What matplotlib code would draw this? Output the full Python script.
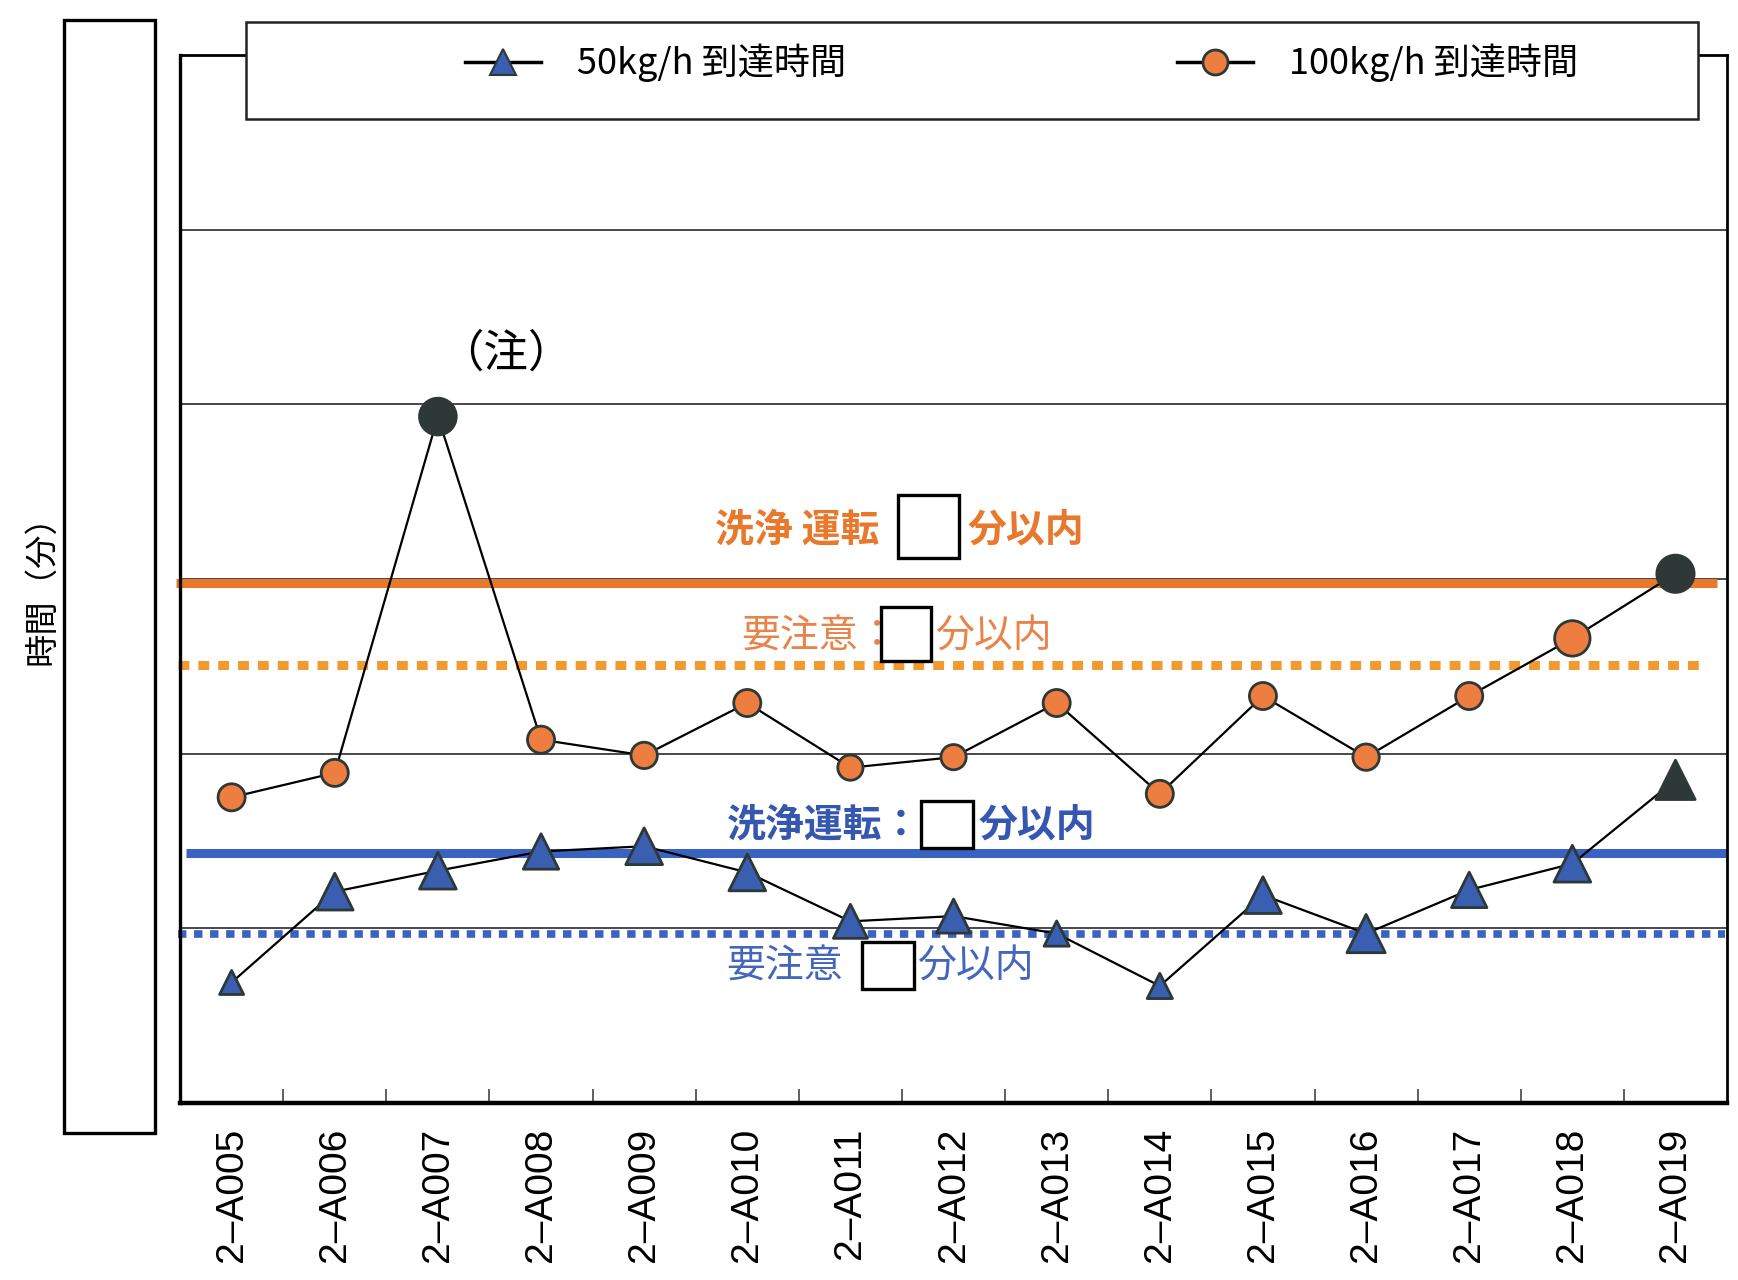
import matplotlib
matplotlib.use("Agg")
import matplotlib.pyplot as plt
from matplotlib.patches import Rectangle
from matplotlib.lines import Line2D
import numpy as np

plt.rcParams['font.family'] = ['Noto Sans CJK JP', 'DejaVu Sans']

# 試験番号
units = ['2–A005', '2–A006', '2–A007', '2–A008', '2–A009', '2–A010', '2–A011', '2–A012',
         '2–A013', '2–A014', '2–A015', '2–A016', '2–A017', '2–A018', '2–A019']

# 到達時間（分）
t_50 = [6.9, 12.1, 13.3, 14.4, 14.7, 13.2, 10.4, 10.7, 9.7, 6.7, 11.9, 9.7, 12.2, 13.7, 18.5]
t_100 = [17.5, 18.9, 39.3, 20.8, 19.9, 22.9, 19.2, 19.8, 22.9, 17.7, 23.3, 19.8, 23.3, 26.6, 30.3]

# 管理値
wash_100 = 29.8
caution_100 = 25.1
wash_50 = 14.3
caution_50 = 9.7

# colours / marker sizes
ORANGE = '#e8782c'
ORANGE_DOT = '#f09a30'
BLUE = '#3a62c0'
TRI_BLUE = '#3a5eb0'
CIRC_OR = '#ee7e40'
DARK = '#2e3836'

tri_sizes = [300, 700, 700, 650, 700, 700, 600, 600, 330, 330, 700, 760, 650, 700, 800]
tri_colors = [TRI_BLUE] * 14 + [DARK]
circ_sizes = [380, 380, 700, 380, 360, 380, 330, 330, 380, 380, 380, 360, 380, 650, 720]
circ_colors = [CIRC_OR, CIRC_OR, DARK] + [CIRC_OR] * 11 + [DARK]

fig = plt.figure(figsize=(17.38, 12.8), dpi=100)
ax = fig.add_axes([0.1036, 0.1383, 0.8901, 0.8187])

x = np.arange(len(units))
ax.set_xlim(-0.5, len(units) - 0.5)
ax.set_ylim(0, 60)

# horizontal grid
ax.set_yticks(np.arange(10, 60, 10))
ax.yaxis.grid(True, color='#2a2a2a', lw=1.2, zorder=0)
ax.tick_params(axis='y', length=0, labelleft=False)
ax.set_axisbelow(True)

# threshold lines
ax.plot([-0.54, 14.4], [wash_100] * 2, color=ORANGE, lw=6.5, solid_capstyle='butt', clip_on=False, zorder=2)
ax.plot([-0.52, 14.27], [caution_100] * 2, color=ORANGE_DOT, lw=6.5,
        linestyle=(0, (1.2, 1.0)), dash_capstyle='butt', clip_on=False, zorder=2)
ax.plot([-0.44, 14.5], [wash_50] * 2, color=BLUE, lw=6.5, solid_capstyle='butt', clip_on=False, zorder=2)
ax.plot([-0.52, 14.48], [caution_50] * 2, color=BLUE, lw=5.5,
        linestyle=(0, (1.1, 1.0)), dash_capstyle='butt', clip_on=False, zorder=2)

# threshold labels with blank boxes
def limit_label(x0, y, head, color, weight, box, x1):
    ax.text(x0, y, head, color=color, fontsize=28, fontweight=weight, va='center', ha='left', zorder=6)
    bx0, bx1, by0, by1 = box
    ax.add_patch(Rectangle((bx0, by0), bx1 - bx0, by1 - by0, facecolor='white',
                           edgecolor='black', lw=2.4, zorder=7))
    ax.text(x1, y, '分以内', color=color, fontsize=28, fontweight=weight, va='center', ha='left', zorder=6)

limit_label(4.69, 32.8, '洗浄 運転', ORANGE, 'bold', (6.46, 7.05, 31.2, 34.8), 7.14)
limit_label(4.94, 26.7, '要注意：', '#e8844a', 'normal', (6.30, 6.78, 25.3, 28.4), 6.82)
limit_label(4.80, 15.9, '洗浄運転：', '#3557b0', 'bold', (6.68, 7.19, 14.6, 17.3), 7.24)
limit_label(4.80, 7.8, '要注意', '#4466bb', 'normal', (6.11, 6.62, 6.5, 9.2), 6.65)

# series
ax.plot(x, t_100, color='black', lw=1.6, zorder=3)
ax.scatter(x, t_100, s=circ_sizes, c=circ_colors, marker='o', edgecolors=DARK, linewidths=2, zorder=4)
ax.plot(x, t_50, color='black', lw=1.6, zorder=3)
ax.scatter(x, t_50, s=tri_sizes, c=tri_colors, marker='^', edgecolors=DARK, linewidths=2, zorder=4)

ax.text(2.66, 42.9, '（注）', fontsize=32, ha='center', va='center', zorder=6)

# x axis: labels at centres, short inward ticks at boundaries
ax.set_xticks(x)
ax.set_xticklabels(units, rotation=90, fontsize=28, family=['Liberation Sans', 'Noto Sans CJK JP'])
ax.tick_params(axis='x', which='major', length=0, pad=18)
ax.set_xticks(np.arange(0.5, len(units) - 1, 1), minor=True)
ax.tick_params(axis='x', which='minor', direction='in', length=10, width=1.2, color='#444')

for side, w in [('bottom', 3.2), ('left', 2.4), ('top', 2.0), ('right', 2.0)]:
    ax.spines[side].set_linewidth(w)
    ax.spines[side].set_color('black')

# empty box for the axis scale
fig.add_artist(Rectangle((0.0368, 0.1148), 0.0524, 0.8695, transform=fig.transFigure,
                         facecolor='none', edgecolor='black', lw=2.4))
fig.text(0.0242, 0.546, '時間（分）', rotation=90, fontsize=24, ha='center', va='center')

# legend
fig.add_artist(Rectangle((0.1415, 0.907), 0.8355, 0.0758, transform=fig.transFigure,
                         facecolor='white', edgecolor='#222', lw=1.8, zorder=4))
h50 = Line2D([], [], color='black', lw=2.5, marker='^', markersize=19,
             markerfacecolor=TRI_BLUE, markeredgecolor=DARK, markeredgewidth=1.5)
h100 = Line2D([], [], color='black', lw=2.5, marker='o', markersize=18,
              markerfacecolor=CIRC_OR, markeredgecolor=DARK, markeredgewidth=2)
for h, lab, xa in [(h50, '50kg/h 到達時間', 465 / 1738), (h100, '100kg/h 到達時間', 1177 / 1738)]:
    leg = fig.legend(handles=[h], labels=[lab], loc='center left', bbox_to_anchor=(xa, 0.9508),
                     frameon=False, borderpad=0, borderaxespad=0, handlelength=2.1,
                     handletextpad=1.0, fontsize=26, numpoints=1)
    leg.set_zorder(6)

fig.savefig('out.png', dpi=100, facecolor='white')
